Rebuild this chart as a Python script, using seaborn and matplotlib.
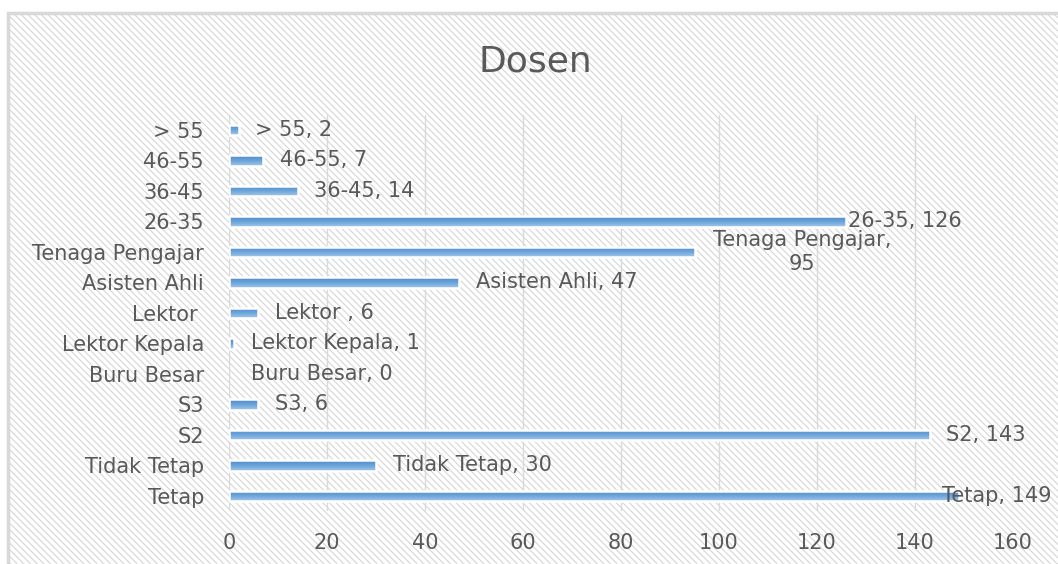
import matplotlib
matplotlib.use('Agg')
import matplotlib.pyplot as plt
import numpy as np
import pandas as pd
import seaborn as sns
from matplotlib.patches import Rectangle

# data, top to bottom as in the chart
categories = ['> 55', '46-55', '36-45', '26-35', 'Tenaga Pengajar', 'Asisten Ahli',
              'Lektor ', 'Lektor Kepala', 'Buru Besar', 'S3', 'S2', 'Tidak Tetap', 'Tetap']
values = [2, 7, 14, 126, 95, 47, 6, 1, 0, 6, 143, 30, 149]
x_ticks = [0, 20, 40, 60, 80, 100, 120, 140, 160]

df = pd.DataFrame({'kategori': categories, 'jumlah': values})

sns.set_theme(style='white')
plt.rcParams['font.family'] = ['DejaVu Sans']
plt.rcParams['hatch.linewidth'] = 0.8
text_color = '#595959'
fs = 15

fig = plt.figure(figsize=(10.58, 5.64), dpi=100)

# chart area background: diagonal hatch, light grey border (runs off the right/bottom edge)
bg = Rectangle((8 / 1058, -0.05), 1.0, 1.05 - 13 / 564, transform=fig.transFigure,
               facecolor='white', edgecolor='#d6d6d6', hatch='\\\\\\\\\\', linewidth=2.2, zorder=-2)
fig.patches.append(bg)
border = Rectangle((8 / 1058, -0.05), 1.0, 1.05 - 13 / 564, transform=fig.transFigure,
                   facecolor='none', edgecolor='#d9d9d9', linewidth=2.5, zorder=-1)
fig.patches.append(border)

ax = fig.add_axes([229 / 1058, 1 - 511 / 564, (1013 - 229) / 1058, (511 - 114.75) / 564])
ax.set_facecolor('none')
ax.set_zorder(1)

sns.barplot(data=df, x='jumlah', y='kategori', orient='h', color='#5b9bd5', width=0.345,
            edgecolor='white', linewidth=1.8, ax=ax, zorder=3)

# gradient fill on the bars, white outline drawn on top
grad = np.linspace(0, 1, 64).reshape(-1, 1)
cmap = matplotlib.colors.LinearSegmentedColormap.from_list('bar', ['#4d89c8', '#6aa3da', '#a3c6ea'])
for p in list(ax.patches):
    w = p.get_width()
    if w <= 0:
        p.set_linewidth(0)
        continue
    x0, y0 = p.get_x(), p.get_y()
    h = p.get_height()
    im = ax.imshow(grad, cmap=cmap, aspect='auto', extent=(x0, x0 + w, y0 + h, y0),
                   zorder=3.5, interpolation='bilinear')
    im.set_clip_path(p)
    p.set_facecolor('none')
    p.set_zorder(4)

ax.set_xlim(0, 160)
ax.set_ylim(12.5, -0.5)
ax.set_xticks(x_ticks)
ax.xaxis.grid(True, color='#d9d9d9', linewidth=1.0, zorder=1)
ax.set_axisbelow(True)
for s in ax.spines.values():
    s.set_visible(False)
ax.set_xlabel('')
ax.set_ylabel('')
ax.tick_params(axis='both', length=0, labelsize=fs, labelcolor=text_color)
ax.tick_params(axis='x', pad=16)
ax.tick_params(axis='y', pad=18)

# data labels "category, value"
for i, (cat, val) in enumerate(zip(categories, values)):
    label = f'{cat}, {val}'
    dx = 12
    if cat == 'Tetap':
        dx = -12
    elif cat == '26-35':
        dx = 1
    elif cat == 'Buru Besar':
        dx = 16
    if cat == 'Tenaga Pengajar':
        ax.annotate('Tenaga Pengajar,\n95', xy=(val, i), xytext=(13, 0), textcoords='offset points',
                    ha='left', va='center', multialignment='center', fontsize=fs,
                    color=text_color, annotation_clip=False, zorder=5, linespacing=1.3)
        continue
    ax.annotate(label, xy=(val, i), xytext=(dx, 0), textcoords='offset points',
                ha='left', va='center', fontsize=fs, color=text_color,
                annotation_clip=False, zorder=5)

fig.text(535 / 1058, 1 - 62 / 564, 'Dosen', ha='center', va='center', fontsize=26,
         color=text_color)

fig.savefig('out.png', dpi=100)
